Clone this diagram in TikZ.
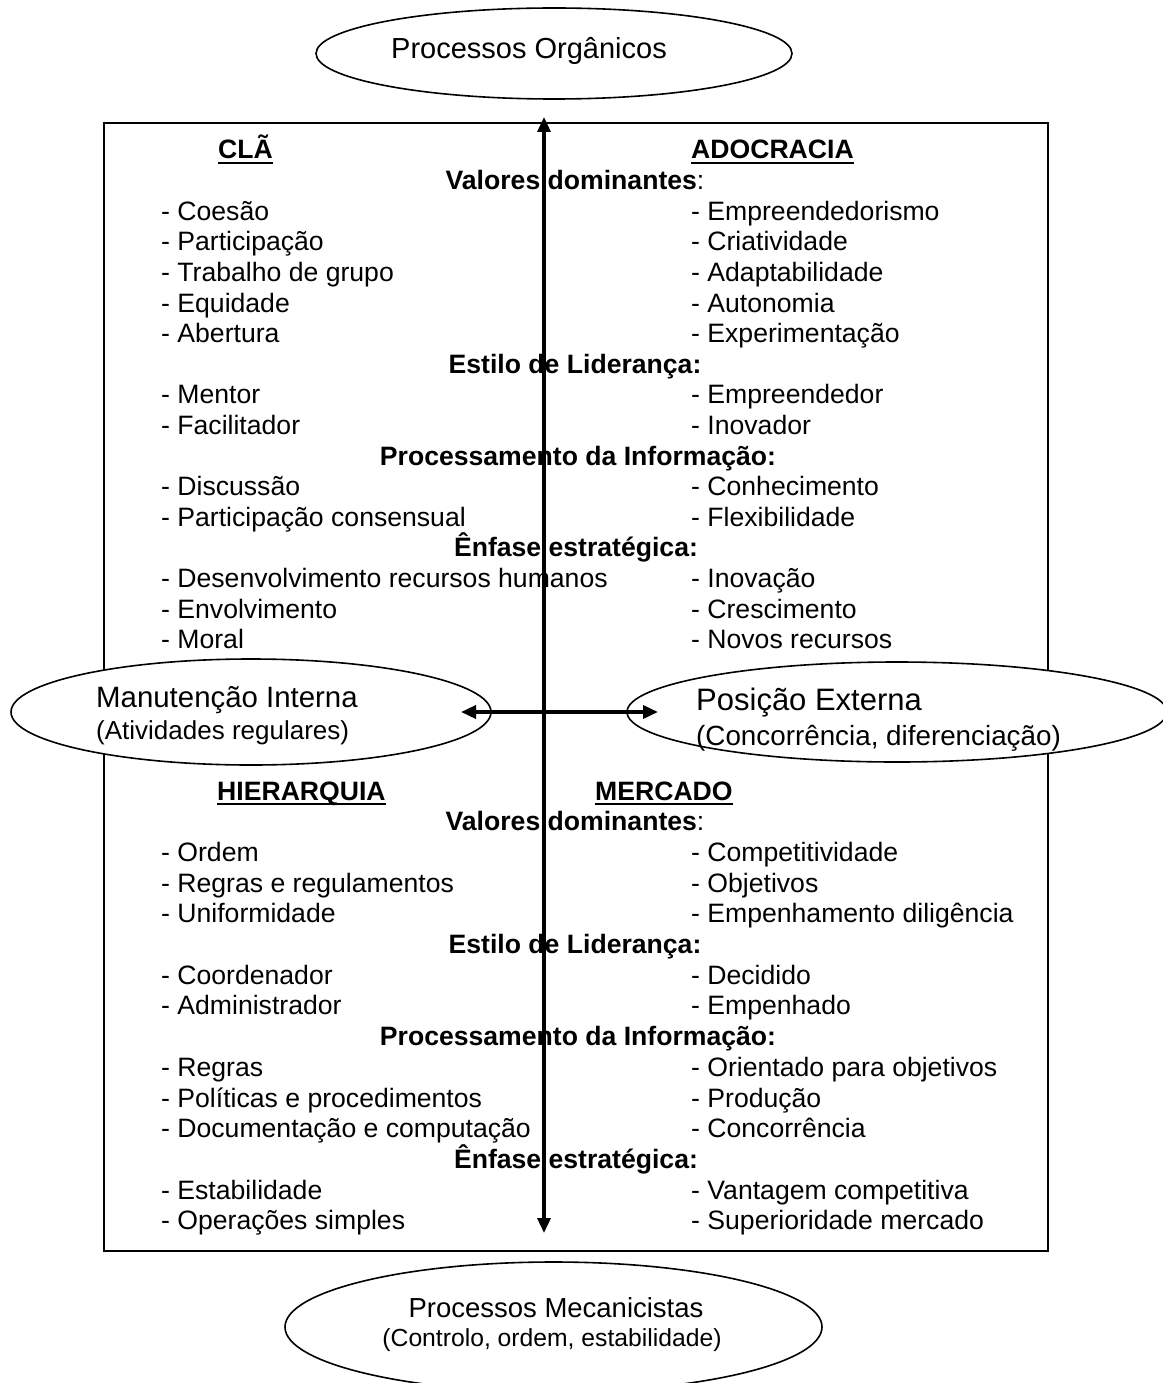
\documentclass[tikz,border=0pt]{standalone}
\usepackage{fontspec}
\setmainfont{Liberation Sans}
\usetikzlibrary{arrows.meta,shapes.geometric}
\begin{document}
\begin{tikzpicture}[x=1pt,y=-1pt,
  body/.style={inner sep=0pt,font=\fontsize{26.6}{31}\selectfont},
  item/.style={body,anchor=base west},
  quad/.style={body,anchor=base west,font=\fontsize{26.6}{31}\selectfont\bfseries},
  sect/.style={body,anchor=base,font=\fontsize{26.6}{31}\selectfont\bfseries},
  big/.style={inner sep=0pt,font=\fontsize{29}{34}\selectfont},
  sub/.style={inner sep=0pt,font=\fontsize{26}{31}\selectfont},
  oval/.style={draw,ellipse,line width=1.6pt,fill=white,inner sep=0pt},
  uline/.style={line width=2pt},
  axis/.style={line width=3.4pt,{Triangle[length=15pt,width=13pt]}-{Triangle[length=15pt,width=13pt]}}]
\useasboundingbox (0,0) rectangle (1162,1383);

% frame of the four cultures
\node[draw,line width=1.8pt,minimum width=944pt,minimum height=1128pt,inner sep=0pt] (frame) at (576,687) {};

% ovals for the two dimensions
\node[oval,minimum width=476pt,minimum height=91pt] (org) at (554,53.5) {};
\node[oval,minimum width=480pt,minimum height=106pt] (int) at (251,712) {};
\node[oval,minimum width=540pt,minimum height=100pt] (ext) at (897,712) {};
\node[oval,minimum width=537pt,minimum height=130pt] (mec) at (553.5,1327) {};

\node[big,anchor=base west] (orgT) at (391,59) {Processos Orgânicos};
\node[big,anchor=base west,font=\fontsize{29.4}{34}\selectfont] (intT) at (96,707) {Manutenção Interna};
\node[sub,anchor=base west] (intS) at (96,739) {(Atividades regulares)};
\node[big,anchor=base west,font=\fontsize{31}{34}\selectfont] (extT) at (696,710) {Posição Externa};
\node[sub,anchor=base west,font=\fontsize{27.8}{31}\selectfont] (extS) at (696,745) {(Concorrência, diferenciação)};
\node[big,anchor=base,font=\fontsize{27.5}{34}\selectfont] (mecT) at (556,1317) {Processos Mecanicistas};
\node[sub,anchor=base,font=\fontsize{24.7}{31}\selectfont] (mecS) at (552,1346) {(Controlo, ordem, estabilidade)};

% upper half: clan and adhocracy
\node[quad] (cla) at (218,159) {CLÃ};
\node[quad] (ado) at (691,159) {ADOCRACIA};
\draw[uline] ([yshift=-4pt]cla.base west) -- ([yshift=-4pt]cla.base east);
\draw[uline] ([yshift=-4pt]ado.base west) -- ([yshift=-4pt]ado.base east);

\node[sect] (s1) at (575,189.6) {Valores dominantes\mdseries:};
\node[item] (a1) at (161,220.2) {- Coesão};
\node[item] (a2) at (161,250.8) {- Participação};
\node[item] (a3) at (161,281.4) {- Trabalho de grupo};
\node[item] (a4) at (161,312) {- Equidade};
\node[item] (a5) at (161,342.6) {- Abertura};
\node[item] (b1) at (691,220.2) {- Empreendedorismo};
\node[item] (b2) at (691,250.8) {- Criatividade};
\node[item] (b3) at (691,281.4) {- Adaptabilidade};
\node[item] (b4) at (691,312) {- Autonomia};
\node[item] (b5) at (691,342.6) {- Experimentação};

\node[sect] (s2) at (575,373.2) {Estilo de Liderança:};
\node[item] (a6) at (161,403.8) {- Mentor};
\node[item] (a7) at (161,434.4) {- Facilitador};
\node[item] (b6) at (691,403.8) {- Empreendedor};
\node[item] (b7) at (691,434.4) {- Inovador};

\node[sect] (s3) at (578,465) {Processamento da Informação:};
\node[item] (a8) at (161,495.6) {- Discussão};
\node[item] (a9) at (161,526.2) {- Participação consensual};
\node[item] (b8) at (691,495.6) {- Conhecimento};
\node[item] (b9) at (691,526.2) {- Flexibilidade};

\node[sect] (s4) at (576,556.8) {Ênfase estratégica:};
\node[item] (a10) at (161,587.4) {- Desenvolvimento recursos humanos};
\node[item] (a11) at (161,618) {- Envolvimento};
\node[item] (a12) at (161,648.6) {- Moral};
\node[item] (b10) at (691,587.4) {- Inovação};
\node[item] (b11) at (691,618) {- Crescimento};
\node[item] (b12) at (691,648.6) {- Novos recursos};

% lower half: hierarchy and market
\node[quad] (hie) at (217,800) {HIERARQUIA};
\node[quad] (mer) at (595,800) {MERCADO};
\draw[uline] ([yshift=-4pt]hie.base west) -- ([yshift=-4pt]hie.base east);
\draw[uline] ([yshift=-4pt]mer.base west) -- ([yshift=-4pt]mer.base east);

\node[sect] (t1) at (575,830.7) {Valores dominantes\mdseries:};
\node[item] (c1) at (161,861.4) {- Ordem};
\node[item] (c2) at (161,892.1) {- Regras e regulamentos};
\node[item] (c3) at (161,922.8) {- Uniformidade};
\node[item] (d1) at (691,861.4) {- Competitividade};
\node[item] (d2) at (691,892.1) {- Objetivos};
\node[item] (d3) at (691,922.8) {- Empenhamento diligência};

\node[sect] (t2) at (575,953.5) {Estilo de Liderança:};
\node[item] (c4) at (161,984.2) {- Coordenador};
\node[item] (c5) at (161,1014.9) {- Administrador};
\node[item] (d4) at (691,984.2) {- Decidido};
\node[item] (d5) at (691,1014.9) {- Empenhado};

\node[sect] (t3) at (578,1045.6) {Processamento da Informação:};
\node[item] (c6) at (161,1076.3) {- Regras};
\node[item] (c7) at (161,1107) {- Políticas e procedimentos};
\node[item] (c8) at (161,1137.7) {- Documentação e computação};
\node[item] (d6) at (691,1076.3) {- Orientado para objetivos};
\node[item] (d7) at (691,1107) {- Produção};
\node[item] (d8) at (691,1137.7) {- Concorrência};

\node[sect] (t4) at (576,1168.4) {Ênfase estratégica:};
\node[item] (c9) at (161,1199.1) {- Estabilidade};
\node[item] (c10) at (161,1229.8) {- Operações simples};
\node[item] (d9) at (691,1199.1) {- Vantagem competitiva};
\node[item] (d10) at (691,1229.8) {- Superioridade mercado};

% the two axes
\coordinate (vtop) at (544,117);
\coordinate (vbot) at (544,1233);
\coordinate (hl) at (461,712);
\coordinate (hr) at (658,712);
\draw[axis] (vtop) -- (vbot);
\draw[axis] (hl) -- (hr);
\end{tikzpicture}
\end{document}
